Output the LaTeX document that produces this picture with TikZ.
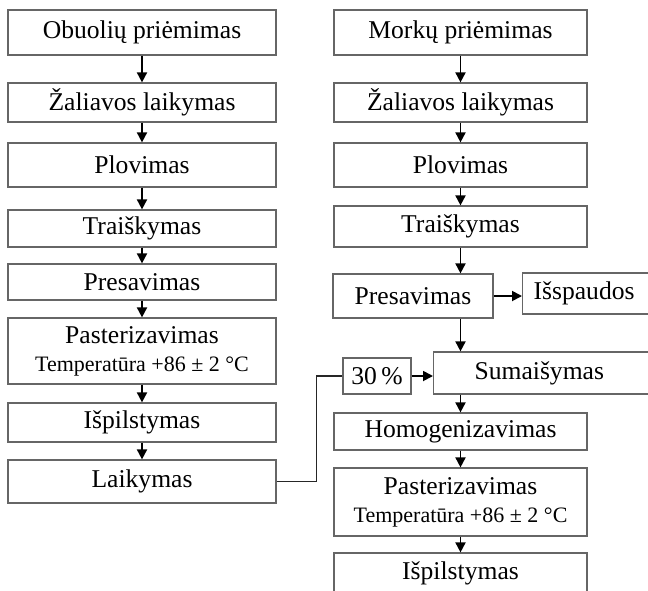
\documentclass[tikz,border=0pt]{standalone}
\usepackage{fontspec}
\setmainfont{Liberation Serif}
\usetikzlibrary{arrows.meta}
\tikzset{
    step-box/.style = {draw=black!60, line width=0.6pt, fill=white, rectangle, inner sep=0pt, align=center, font=\fontsize{12.8}{15}\selectfont},
    flow-arrow/.style = {-{Triangle[length=5pt,width=5pt]}, line width=0.9pt},
    feed-line/.style = {line width=0.7pt, draw=black!85},
}
\newcommand{\templine}{{\fontsize{11}{12}\selectfont Temperatūra +86 ± 2 °C}}

\begin{document}
\begin{tikzpicture}[x=0.5pt, y=-0.5pt]
\clip (0,0) rectangle (648,590);
\fill[white] (0,0) rectangle (648,590);

% obuoliai
\node[step-box, minimum width=134pt, minimum height=22.5pt] (l-obuol) at (142,32.5) {Obuolių priėmimas};
\node[step-box, minimum width=134pt, minimum height=19.5pt] (l-zal) at (142,102.5) {Žaliavos laikymas};
\node[step-box, minimum width=134pt, minimum height=22pt] (l-plov) at (142,165) {Plovimas};
\node[step-box, minimum width=134pt, minimum height=18.5pt] (l-trais) at (142,228.5) {Traiškymas};
\node[step-box, minimum width=134pt, minimum height=18pt] (l-pres) at (142,282) {Presavimas};
\node[step-box, minimum width=134pt, minimum height=33pt] (l-past) at (142,351) {Pasterizavimas\\[-1pt]\templine};
\node[step-box, minimum width=134pt, minimum height=19.5pt] (l-ispil) at (142,422.5) {Išpilstymas};
\node[step-box, minimum width=134pt, minimum height=21.5pt] (l-laik) at (142,481.5) {Laikymas};

% morkos
\node[step-box, minimum width=126.5pt, minimum height=22.5pt] (r-mork) at (460.5,32.5) {Morkų priėmimas};
\node[step-box, minimum width=126.5pt, minimum height=19.5pt] (r-zal) at (460.5,102.5) {Žaliavos laikymas};
\node[step-box, minimum width=126.5pt, minimum height=22pt] (r-plov) at (460.5,165) {Plovimas};
\node[step-box, minimum width=126.5pt, minimum height=20.5pt] (r-trais) at (460.5,226.5) {Traiškymas};
\node[step-box, minimum width=80pt, minimum height=22pt] (r-pres) at (413,296) {Presavimas};
\node[step-box, anchor=west, text width=65pt, align=left, inner xsep=5.5pt, minimum height=20.5pt] (r-issp) at (522,293.5) {Išspaudos};
\node[step-box, minimum width=34pt, minimum height=18pt] (proc30) at (377,376) {30\,\%};
\node[step-box, anchor=west, text width=90pt, align=left, inner xsep=20.5pt, minimum height=21pt] (r-sum) at (433,373) {Sumaišymas};
\node[step-box, minimum width=126.5pt, minimum height=18.5pt] (r-homo) at (460.5,431.5) {Homogenizavimas};
\node[step-box, minimum width=126.5pt, minimum height=34pt] (r-past) at (460.5,502) {Pasterizavimas\\[-1pt]\templine};
\node[step-box, minimum width=126.5pt, minimum height=20pt] (r-ispil) at (460.5,573) {Išpilstymas};

\foreach \a/\b in {l-obuol/l-zal, l-zal/l-plov, l-plov/l-trais, l-trais/l-pres, l-pres/l-past, l-past/l-ispil, l-ispil/l-laik, r-mork/r-zal, r-zal/r-plov, r-plov/r-trais, r-homo/r-past, r-past/r-ispil}
    \draw[flow-arrow] (\a) -- (\b);

\draw[flow-arrow] (r-trais.south) -- (r-trais.south |- r-pres.north);
\draw[flow-arrow] (r-pres.east) -- (r-pres.east -| r-issp.west);
\draw[flow-arrow] (r-pres.south -| r-trais.south) -- (r-trais.south |- r-sum.north);
\draw[flow-arrow] (r-homo.north |- r-sum.south) -- (r-homo.north);
\draw[flow-arrow] (proc30.east) -- (proc30.east -| r-sum.west);
\draw[feed-line] (l-laik.east) -- ++(40,0) |- (proc30.west);
\end{tikzpicture}
\end{document}
